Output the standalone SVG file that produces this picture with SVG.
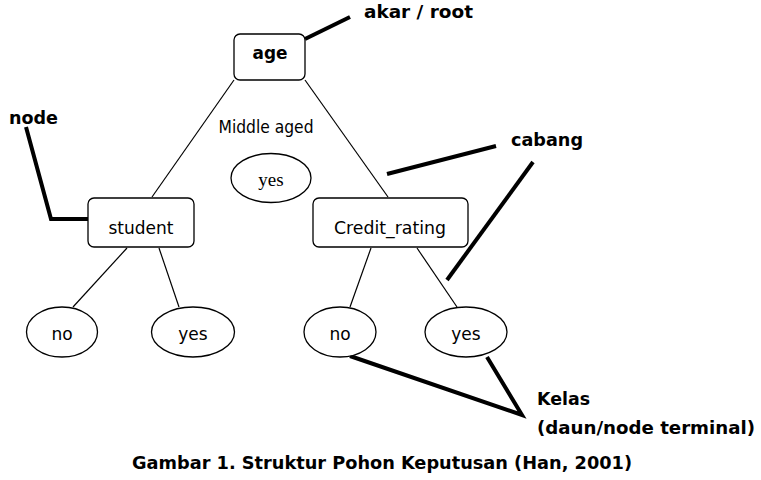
<svg xmlns="http://www.w3.org/2000/svg" width="761" height="480" viewBox="0 0 761 480">
<style>
.box{fill:#fff;stroke:#000;stroke-width:1.3}
.edge{stroke:#000;stroke-width:1.2;fill:none}
.call{stroke:#000;stroke-width:4;fill:none;stroke-linecap:butt}
.t{font-family:"DejaVu Sans",Verdana,sans-serif;font-size:17px;fill:#000}
.b{font-family:"DejaVu Sans Condensed","DejaVu Sans",Verdana,sans-serif;font-size:18px;font-weight:bold;fill:#000}
.s{font-family:"Liberation Serif","Times New Roman",serif;font-size:19px;fill:#000}
</style>
<rect width="761" height="480" fill="#fff"/>
<g id="connectors">
<line class="edge" x1="234" y1="80" x2="152" y2="197"/>
<line class="edge" x1="305" y1="80" x2="388" y2="197"/>
<line class="edge" x1="127" y1="248" x2="73" y2="307"/>
<line class="edge" x1="159" y1="248" x2="179" y2="307"/>
<line class="edge" x1="371" y1="248" x2="350" y2="307"/>
<line class="edge" x1="417" y1="248" x2="457" y2="307"/>
</g>
<g id="annotations">
<line class="call" x1="305" y1="39" x2="350" y2="17"/>
<polyline class="call" points="26,127 51,219 88,219"/>
<line class="call" x1="387" y1="174" x2="496" y2="146"/>
<line class="call" x1="533" y1="162" x2="447" y2="280"/>
<polyline class="call" points="350,356 522,415 487,357"/>
</g>
<g id="root">
<rect class="box" x="234" y="34" width="71" height="46" rx="6"/>
<text class="b" x="270" y="59" text-anchor="middle" textLength="35" lengthAdjust="spacingAndGlyphs">age</text>
</g>
<g id="middle-label">
<text class="t" x="266" y="133" text-anchor="middle" font-size="16" textLength="95" lengthAdjust="spacingAndGlyphs">Middle aged</text>
</g>
<g id="leaf-middle">
<ellipse class="box" cx="271" cy="178" rx="40" ry="24.5"/>
<text class="s" x="271" y="186" text-anchor="middle">yes</text>
</g>
<g id="student">
<rect class="box" x="88" y="198" width="106" height="49" rx="6"/>
<text class="t" x="141" y="234" text-anchor="middle" textLength="65" lengthAdjust="spacingAndGlyphs">student</text>
</g>
<g id="credit">
<rect class="box" x="313" y="198" width="155" height="49" rx="6"/>
<text class="t" x="390" y="234" text-anchor="middle" textLength="112" lengthAdjust="spacingAndGlyphs">Credit_rating</text>
</g>
<g id="leaf-student-no">
<ellipse class="box" cx="62" cy="332" rx="35.5" ry="25"/>
<text class="t" x="62" y="340" text-anchor="middle">no</text>
</g>
<g id="leaf-student-yes">
<ellipse class="box" cx="193" cy="332" rx="41.5" ry="25"/>
<text class="t" x="193" y="340" text-anchor="middle">yes</text>
</g>
<g id="leaf-credit-no">
<ellipse class="box" cx="340" cy="332" rx="36" ry="25"/>
<text class="t" x="340" y="340" text-anchor="middle">no</text>
</g>
<g id="leaf-credit-yes">
<ellipse class="box" cx="466" cy="332" rx="41" ry="25"/>
<text class="t" x="466" y="340" text-anchor="middle">yes</text>
</g>
<g id="labels">
<text class="b" x="364" y="18" textLength="109" lengthAdjust="spacingAndGlyphs">akar / root</text>
<text class="b" x="9" y="124" textLength="49" lengthAdjust="spacingAndGlyphs">node</text>
<text class="b" x="511" y="146" textLength="72" lengthAdjust="spacingAndGlyphs">cabang</text>
<text class="b" x="537" y="405" textLength="53" lengthAdjust="spacingAndGlyphs">Kelas</text>
<text class="b" x="537" y="434" textLength="218" lengthAdjust="spacingAndGlyphs">(daun/node terminal)</text>
<text class="b" x="132" y="469" textLength="500" lengthAdjust="spacingAndGlyphs">Gambar 1. Struktur Pohon Keputusan (Han, 2001)</text>
</g>
</svg>
